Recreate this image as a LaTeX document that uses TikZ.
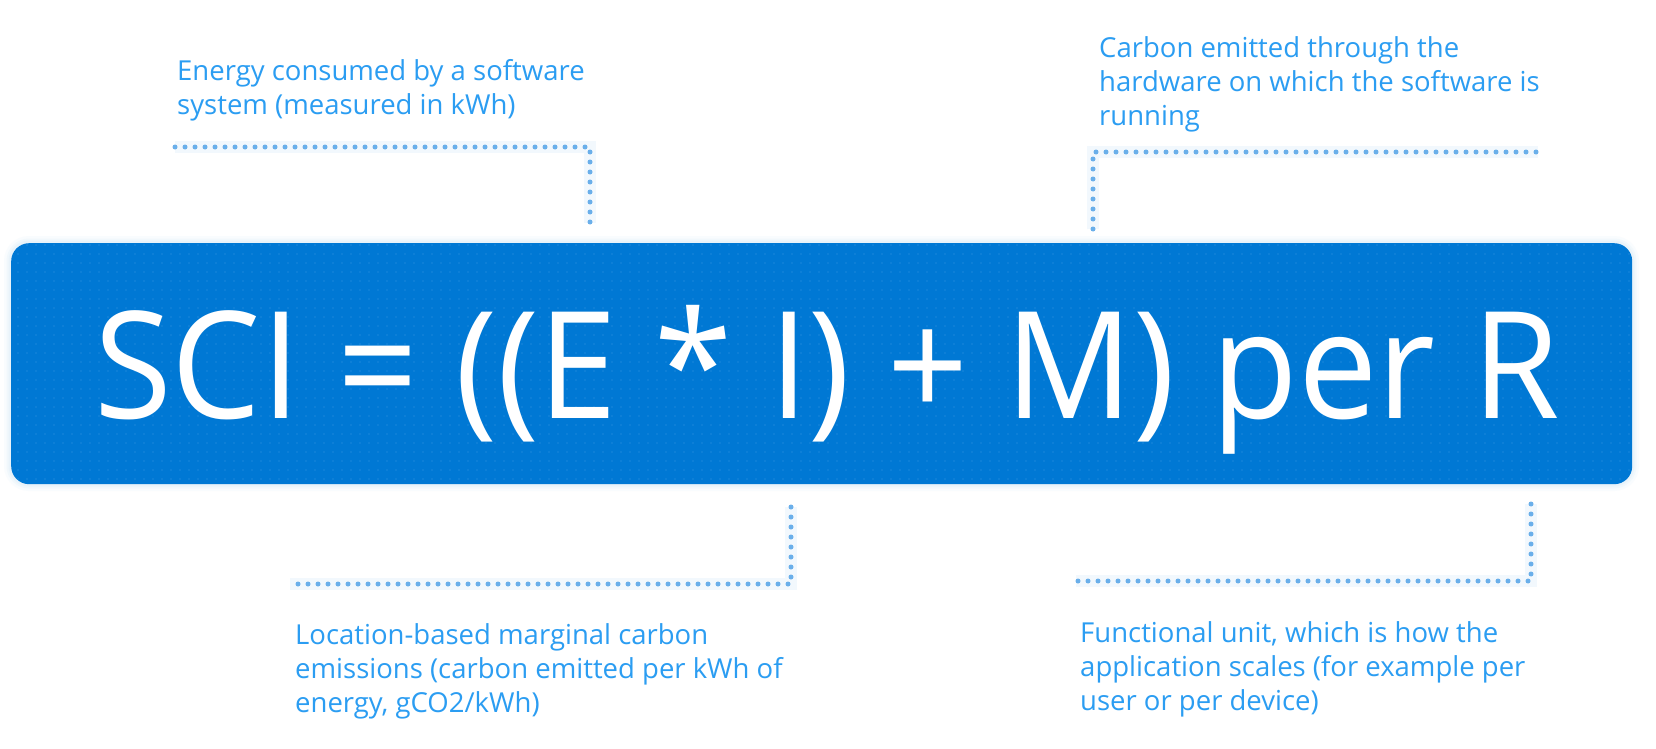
\documentclass[tikz,border=0pt]{standalone}
\usepackage{fontspec}
\setmainfont{Open Sans}
\usetikzlibrary{patterns.meta}
\definecolor{boxblue}{HTML}{0078D4}
\definecolor{dotblue}{HTML}{3A98E4}
\definecolor{txtblue}{HTML}{2B9DF2}
\definecolor{lineblue}{HTML}{6AAFEA}
\definecolor{glowblue}{HTML}{EAF4FC}
\tikzset{
  callout/.style={anchor=base west, align=left, inner sep=0pt, text=txtblue,
    font=\fontsize{27.5}{34}\selectfont},
  leader/.style={lineblue, line width=5pt, line cap=round, dash pattern=on 0pt off 10pt},
  leaderglow/.style={glowblue, line width=12pt, opacity=0.6},
}
\begin{document}
\begin{tikzpicture}[x=1pt,y=-1pt]
\useasboundingbox (0,0) rectangle (1656,749);
\fill[white] (0,0) rectangle (1656,749);
% glow around box
\foreach \w/\o in {14/0.15,9/0.25,5/0.4}{
  \draw[glowblue!60!boxblue!30, line width=\w pt, opacity=\o, rounded corners=18pt] (11,243) rectangle (1632,484);
}
\node[draw=none, fill=boxblue, rounded corners=18pt, minimum width=1621pt, minimum height=241pt,
  anchor=north west, inner sep=0pt] (box) at (11,243) {};
\fill[pattern={Dots[distance=9pt, radius=0.7pt]}, pattern color=dotblue, rounded corners=18pt]
  (11,243) rectangle (1632,484);
\node[anchor=base, text=white, inner sep=0pt, font=\fontsize{149}{149}\selectfont] (formula) at (827,418)
  {\scalebox{0.95}[1]{SCI = ((E * I) + M) per R}};

% callouts (anchor base = baseline of last line)
\node[callout] (t1) at (177,114) {Energy consumed by a software\\system (measured in kWh)};
\node[callout, font=\fontsize{27.5}{34}\selectfont] (t2) at (1099,125) {Carbon emitted through the\\hardware on which the software is\\running};
\node[callout] (t3) at (295,712) {Location-based marginal carbon\\emissions (carbon emitted per kWh of\\energy, gCO2/kWh)};
\node[callout] (t4) at (1080,710) {Functional unit, which is how the\\application scales (for example per\\user or per device)};

% leader end points
\coordinate (a1) at (175,147); \coordinate (a2) at (590,147); \coordinate (a3) at (590,223);
\coordinate (b1) at (1093,229); \coordinate (b2) at (1093,152); \coordinate (b3) at (1538,152);
\coordinate (c1) at (791,507); \coordinate (c2) at (791,584); \coordinate (c3) at (290,584);
\coordinate (d1) at (1531,504); \coordinate (d2) at (1531,581); \coordinate (d3) at (1076,581);

\foreach \p/\q/\r in {a1/a2/a3, b1/b2/b3, c1/c2/c3, d1/d2/d3}{
  \draw[leaderglow] (\p) -- (\q) -- (\r);
}
\foreach \p/\q/\r in {a1/a2/a3, b1/b2/b3, c1/c2/c3, d1/d2/d3}{
  \draw[leader] (\p) -- (\q) -- (\r);
}
\end{tikzpicture}
\end{document}
